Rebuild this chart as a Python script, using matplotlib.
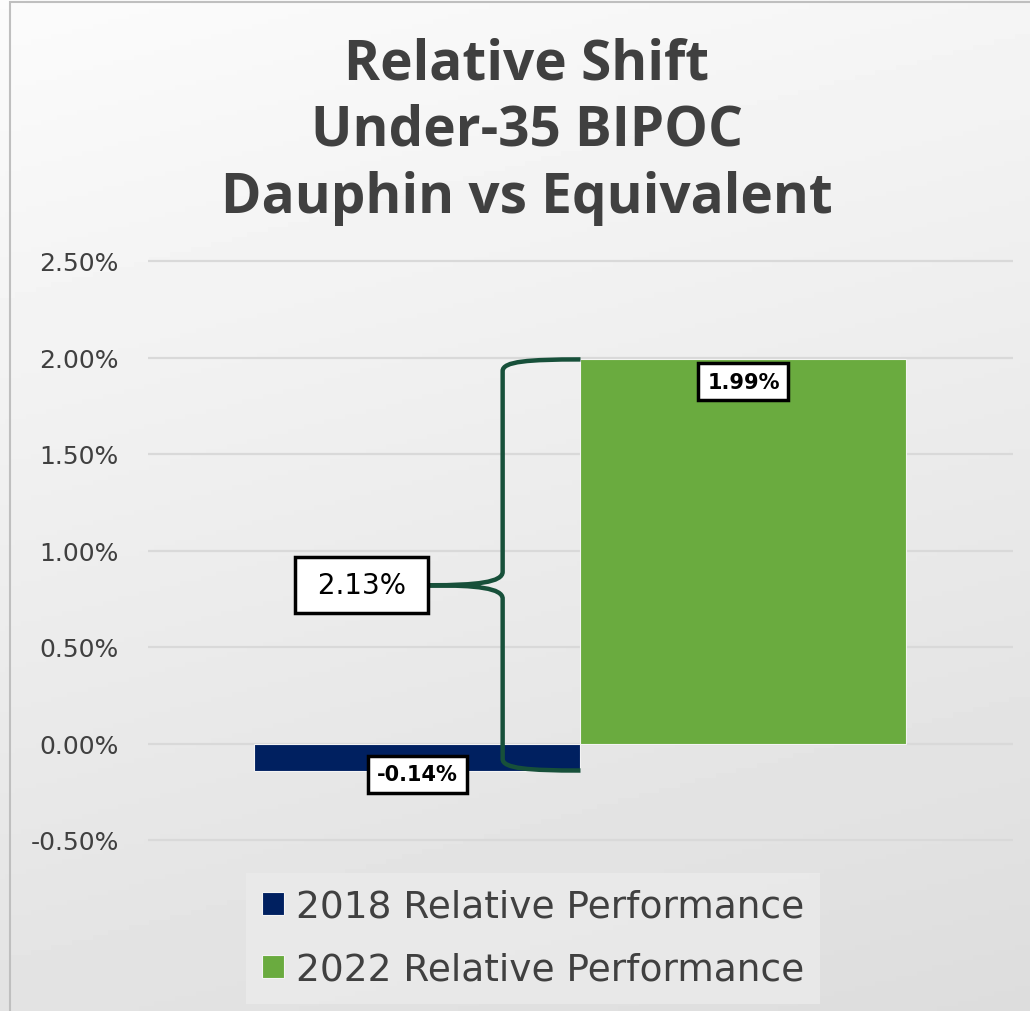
# Relative Shift chart: Under-35 BIPOC, Dauphin vs Equivalent
import numpy as np
import matplotlib.pyplot as plt
from matplotlib.path import Path
from matplotlib.patches import PathPatch, Rectangle

# -----------------------------
# Data (values in percent)
# -----------------------------
series_names = ['2018 Relative Performance', '2022 Relative Performance']
series_values = [-0.14, 1.99]
series_colors = ['#002060', '#6AAB3F']
shift_value = 2.13
y_ticks = [-0.5, 0.0, 0.5, 1.0, 1.5, 2.0, 2.5]
title_lines = ['Relative Shift', 'Under-35 BIPOC', 'Dauphin vs Equivalent']

plt.rcParams['font.family'] = ['DejaVu Sans']

W, H = 1030, 1012
fig = plt.figure(figsize=(W / 100, H / 100), dpi=100)

# -----------------------------
# Background gradient + frame
# -----------------------------
bg = fig.add_axes([0, 0, 1, 1], zorder=-10)
yy, xx = np.mgrid[0:1:200j, 0:1:200j]
grad = 0.985 - (0.095 * yy + 0.025 * xx)
bg.imshow(grad, cmap='gray', vmin=0, vmax=1, aspect='auto', extent=[0, 1, 0, 1])
bg.add_patch(Rectangle((10 / W, -0.1), 1.2, 1.1 - 3 / H, fill=False,
                       edgecolor='#BFBFBF', lw=1.5))
bg.set_xlim(0, 1)
bg.set_ylim(0, 1)
bg.axis('off')

# -----------------------------
# Plot area
# -----------------------------
px_per_unit = (841 - 262) / 3.0
pad = 0.03
bottom_px = 841 + pad * px_per_unit
top_px = 262 - pad * px_per_unit
ax = fig.add_axes([148 / W, 1 - bottom_px / H, (1013 - 148) / W, (bottom_px - top_px) / H])
ax.set_facecolor('none')
ax.set_xlim(-0.5, 0.5)
ax.set_ylim(-0.5 - pad, 2.5 + pad)

bar_w = 326 / 865
xs = [-bar_w / 2, bar_w / 2]
bars = ax.bar(xs, series_values, width=bar_w, color=series_colors,
              edgecolor='#F4F4F4', linewidth=0.8, zorder=3)

ax.set_yticks(y_ticks)
ax.set_yticklabels([f'{v:.2f}%' for v in y_ticks], fontsize=18, color='#404040')
ax.tick_params(axis='y', length=0, pad=21)
ax.set_xticks([])
for s in ax.spines.values():
    s.set_visible(False)
ax.yaxis.grid(True, color='#D9D9D9', lw=1.6, zorder=0)

# data labels
label_box = dict(boxstyle='square,pad=0.42', fc='white', ec='black', lw=2.5)
ax.text(xs[0], series_values[0] - 0.02, f'{series_values[0]:.2f}%', ha='center', va='center',
        fontsize=15, fontweight='bold', bbox=label_box, zorder=5)
ax.text(xs[1], series_values[1] - 0.115, f'{series_values[1]:.2f}%', ha='center', va='center',
        fontsize=15, fontweight='bold', bbox=label_box, zorder=5)

# -----------------------------
# Curly brace from bar top to bar top
# -----------------------------
top, bot = series_values[1], series_values[0]
tip = 0.82
xv, xt = -0.09, -0.174
verts = [(0, top), (-0.06, top), (xv, top - 0.01), (xv, top - 0.06),
         (xv, tip + 0.07),
         (xv, tip + 0.015), (-0.12, tip), (xt, tip),
         (-0.12, tip), (xv, tip - 0.015), (xv, tip - 0.07),
         (xv, bot + 0.06),
         (xv, bot + 0.01), (-0.06, bot), (0, bot)]
codes = [Path.MOVETO, Path.CURVE4, Path.CURVE4, Path.CURVE4,
         Path.LINETO,
         Path.CURVE4, Path.CURVE4, Path.CURVE4,
         Path.CURVE4, Path.CURVE4, Path.CURVE4,
         Path.LINETO,
         Path.CURVE4, Path.CURVE4, Path.CURVE4]
ax.add_patch(PathPatch(Path(verts, codes), fill=False, ec='#17503A', lw=3.2,
                       capstyle='butt', zorder=6))

shift_box = dict(boxstyle='square,pad=0.5', fc='white', ec='black', lw=2.5)
ax.text(-0.253, tip, f' {shift_value:.2f}% ', ha='center', va='center',
        fontsize=20, bbox=shift_box, zorder=7)

# -----------------------------
# Title (one text per line)
# -----------------------------
for line, base in zip(title_lines, [80, 146, 213]):
    fig.text(527 / W, 1 - base / H, line, ha='center', va='baseline',
             fontsize=39.5, fontweight='bold', color='#404040', family='Open Sans')

# -----------------------------
# Legend
# -----------------------------
leg = fig.legend(bars, series_names, loc='upper left',
                 bbox_to_anchor=(246 / W, 1 - 874 / H), borderaxespad=0,
                 frameon=True, fontsize=27, handlelength=0.59, handleheight=0.59,
                 handletextpad=0.32, labelspacing=0.72, borderpad=0.42,
                 fancybox=False, labelcolor='#404040')
leg.get_frame().set_facecolor('#EBEBEB')
leg.get_frame().set_edgecolor('none')

fig.savefig('out.png', dpi=100)
